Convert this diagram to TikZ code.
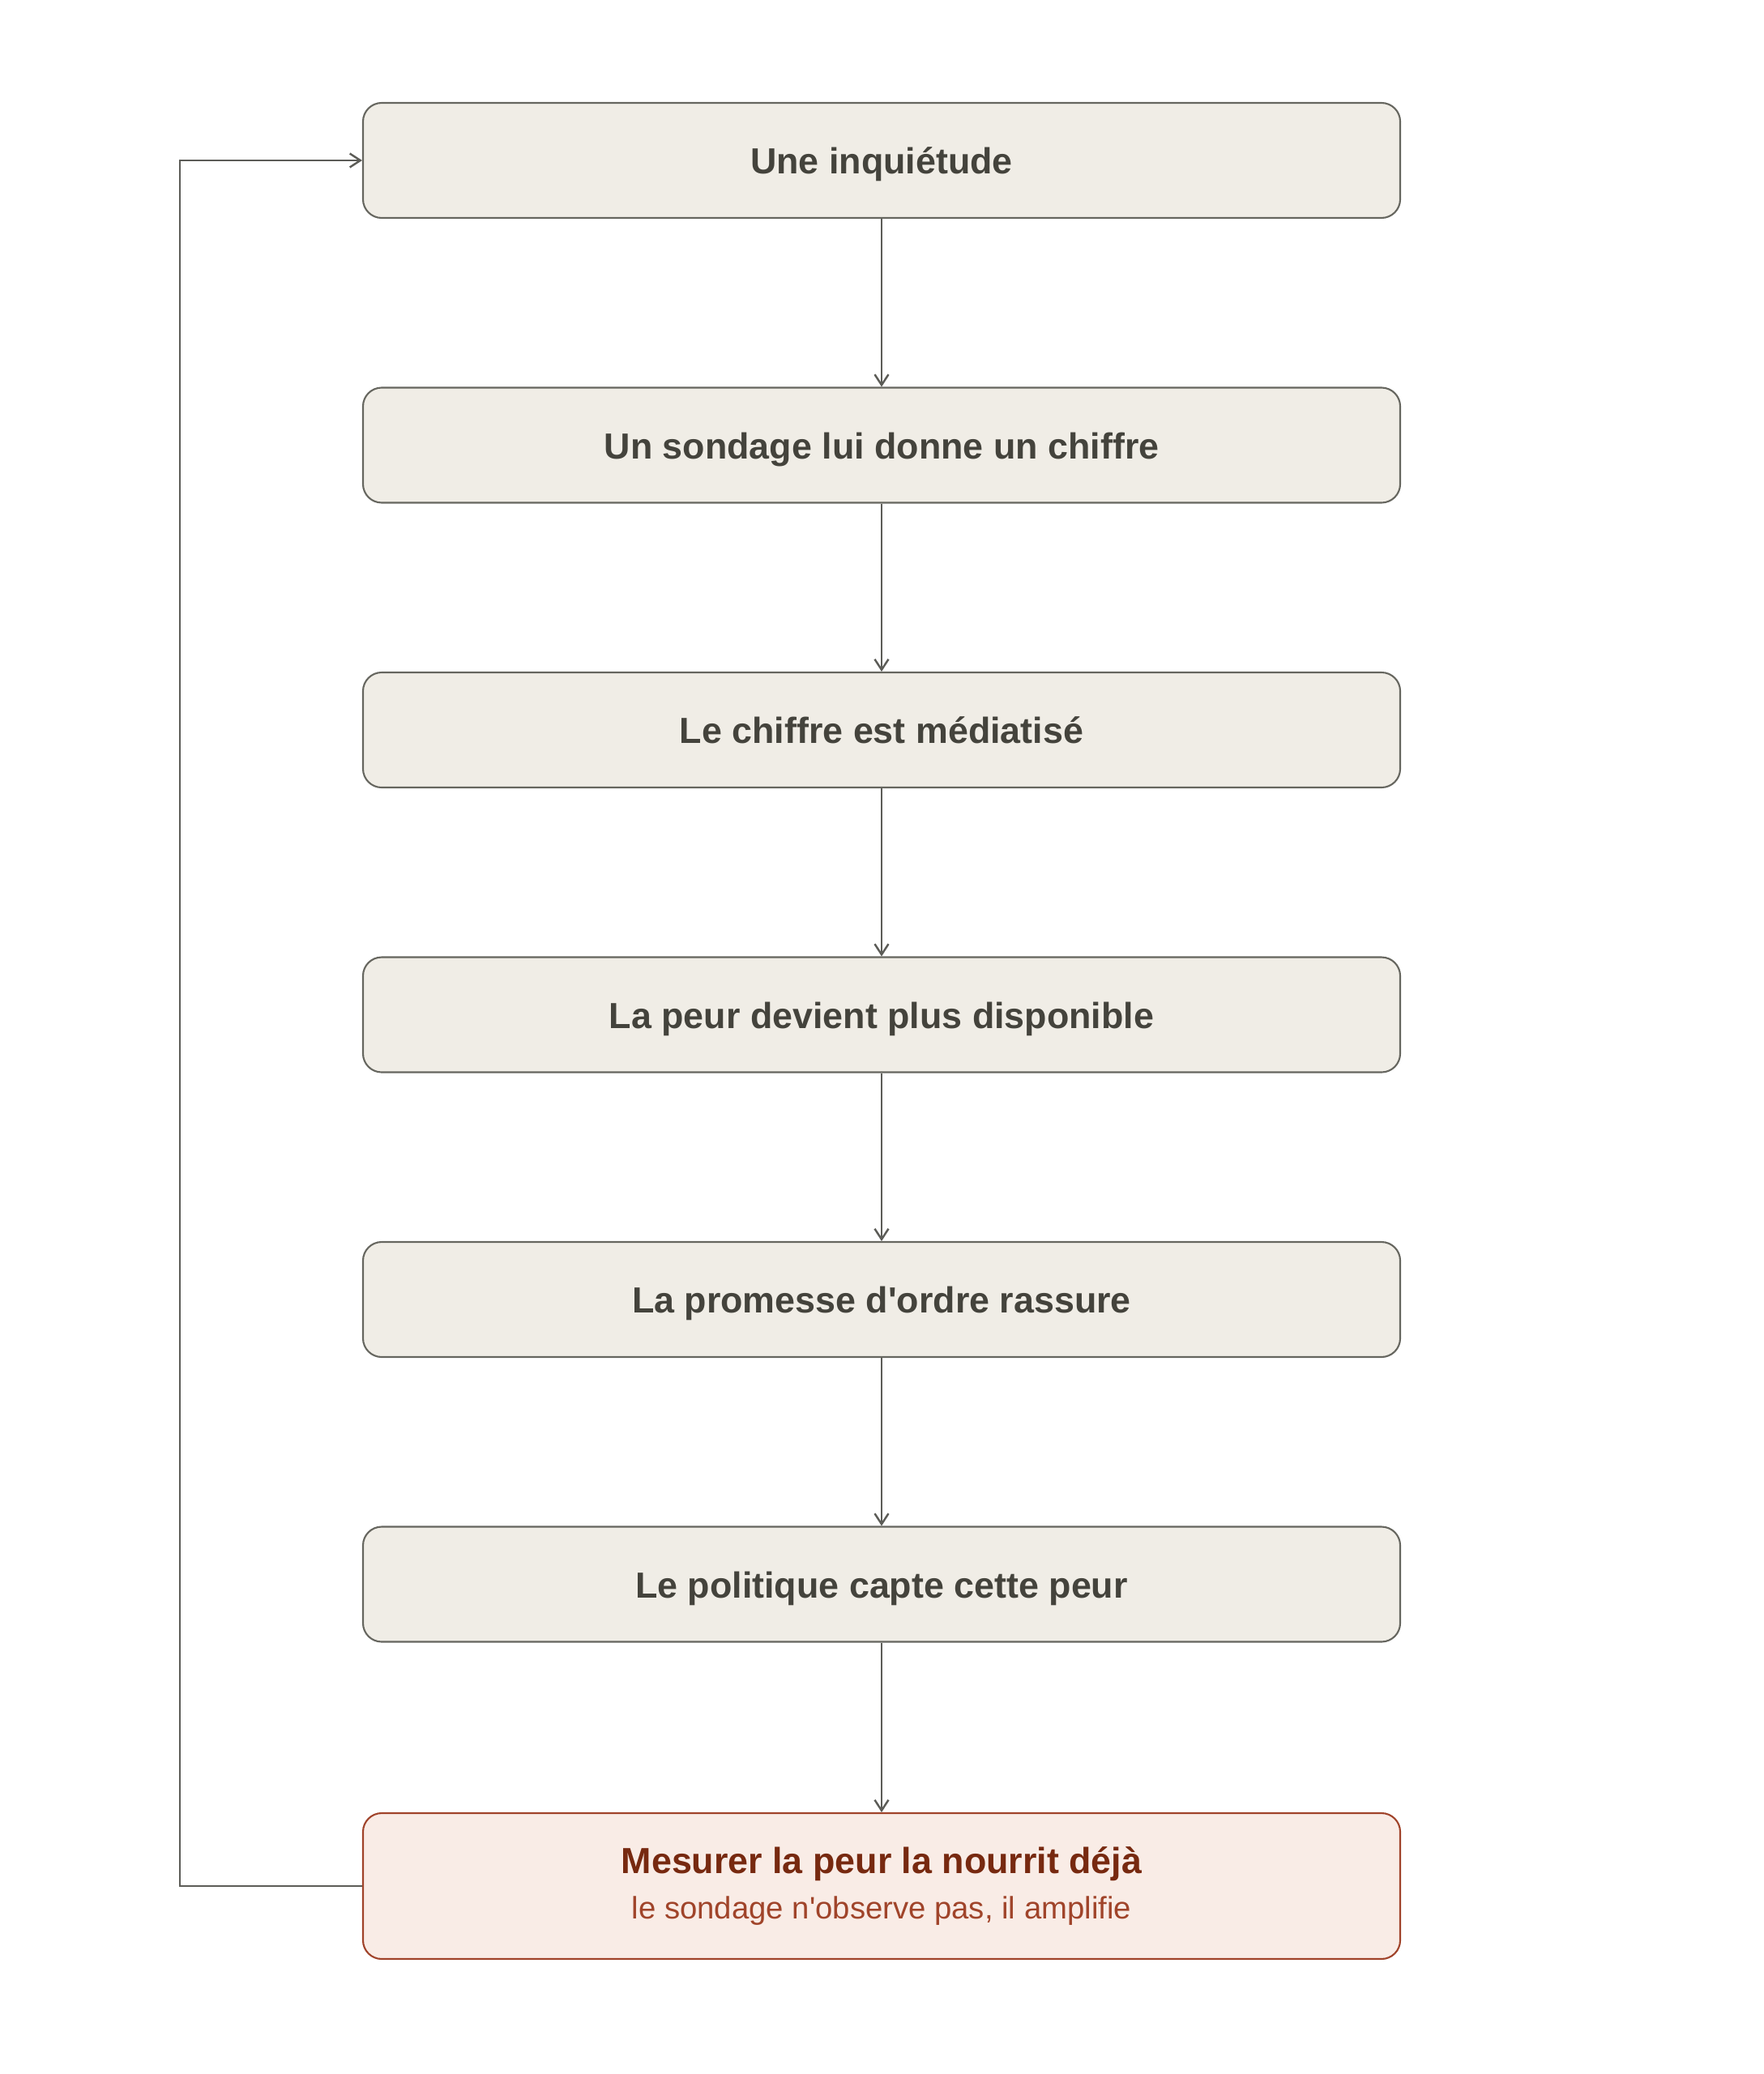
\documentclass[tikz,border=0pt]{standalone}
\usepackage{fontspec}
\setmainfont{Liberation Sans}[Ligatures=TeXOff]
\usetikzlibrary{arrows.meta}
\definecolor{boxfill}{HTML}{F0EDE6}
\definecolor{boxline}{HTML}{66665F}
\definecolor{arrowline}{HTML}{5C5C57}
\definecolor{boxtext}{HTML}{44433C}
\definecolor{endfill}{HTML}{F9ECE6}
\definecolor{endline}{HTML}{A0432A}
\definecolor{endtitle}{HTML}{772910}
\definecolor{endsub}{HTML}{A0442A}
\begin{document}
\begin{tikzpicture}[step node/.style={shape=rectangle, rounded corners=0.23cm, draw=boxline, line width=0.6pt, fill=boxfill, text=boxtext, minimum width=12.8cm, minimum height=1.42cm, text height=0.69em+2.6pt, text depth=0pt, font=\fontsize{12.75}{15}\selectfont\bfseries}, end node/.style={shape=rectangle, rounded corners=0.23cm, draw=endline, line width=0.6pt, fill=endfill, minimum width=12.8cm, minimum height=1.8cm, align=center}, flow/.style={-{Straight Barb[length=1.3mm,width=1.7mm]}, draw=arrowline, line width=0.7pt}]
\useasboundingbox (0,0) rectangle (21.76,-25.6);
\node[step node] (U) at (10.88,-1.98) {Une inquiétude};
\node[step node] (S) at (10.88,-5.495) {Un sondage lui donne un chiffre};
\node[step node] (C) at (10.88,-9.01) {Le chiffre est médiatisé};
\node[step node] (P) at (10.88,-12.525) {La peur devient plus disponible};
\node[step node] (O) at (10.88,-16.04) {La promesse d'ordre rassure};
\node[step node] (L) at (10.88,-19.555) {Le politique capte cette peur};
\node[end node] (M) at (10.88,-23.28) {{\color{endtitle}\fontsize{12.75}{15.6}\selectfont\bfseries Mesurer la peur la nourrit déjà}\\[3.7pt]{\color{endsub}\fontsize{10.9}{13}\selectfont le sondage n'observe pas, il amplifie}};
\draw [flow] (U) -- (S);
\draw [flow] (S) -- (C);
\draw [flow] (C) -- (P);
\draw [flow] (P) -- (O);
\draw [flow] (O) -- (L);
\draw [flow] (L) -- (M);
\draw [flow] (M.west) -- ++(-2.25,0) |- (U.west);
\end{tikzpicture}
\end{document}
